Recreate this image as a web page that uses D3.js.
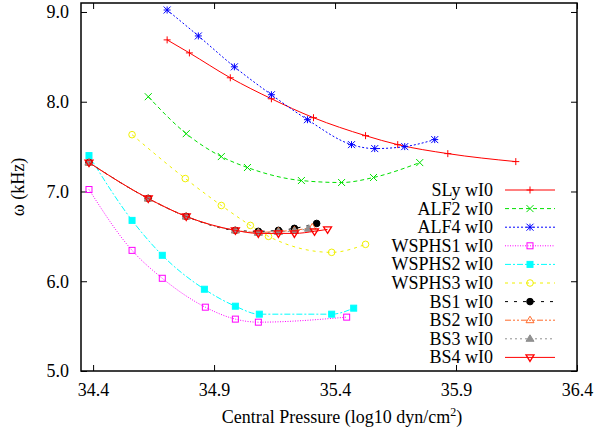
<!DOCTYPE html>
<html>
<head>
<meta charset="utf-8">
<script src="https://cdn.jsdelivr.net/npm/d3@7"></script>
</head>
<body style="margin:0">
<script>
// data (x = log10 central pressure, y = omega in kHz)
var slyX = [34.706, 34.798, 34.967, 35.137, 35.311, 35.526, 35.659, 35.866, 36.147];
var slyY = [8.689, 8.544, 8.267, 8.033, 7.822, 7.622, 7.522, 7.422, 7.333];

var alf2X = [34.628, 34.785, 34.930, 35.038, 35.261, 35.427, 35.559, 35.750];
var alf2Y = [8.056, 7.644, 7.389, 7.267, 7.122, 7.100, 7.156, 7.322];

var alf4X = [34.706, 34.835, 34.984, 35.137, 35.286, 35.468, 35.564, 35.688, 35.812];
var alf4Y = [9.022, 8.733, 8.389, 8.078, 7.800, 7.522, 7.478, 7.500, 7.578];

var wsphs1X = [34.383, 34.561, 34.686, 34.864, 34.988, 35.083, 35.448];
var wsphs1Y = [7.022, 6.344, 6.033, 5.711, 5.578, 5.544, 5.600];

var wsphs2X = [34.383, 34.561, 34.686, 34.860, 34.988, 35.087, 35.386, 35.477];
var wsphs2Y = [7.400, 6.678, 6.289, 5.911, 5.722, 5.633, 5.633, 5.700];

var wsphs3X = [34.561, 34.781, 34.930, 35.050, 35.125, 35.386, 35.526];
var wsphs3Y = [7.633, 7.144, 6.844, 6.622, 6.500, 6.322, 6.411];

var bs1X = [34.383, 34.628, 34.785, 34.988, 35.083, 35.166, 35.232, 35.324];
var bs1Y = [7.322, 6.922, 6.722, 6.567, 6.556, 6.567, 6.589, 6.644];

var bs2X = [34.383, 34.628, 34.785, 34.988, 35.083, 35.166, 35.232, 35.306];
var bs2Y = [7.322, 6.922, 6.722, 6.567, 6.544, 6.556, 6.567, 6.600];

var bs3X = [34.383, 34.628, 34.785, 34.988, 35.083, 35.166, 35.232, 35.290];
var bs3Y = [7.322, 6.922, 6.722, 6.567, 6.540, 6.550, 6.560, 6.585];

var bs4X = [34.383, 34.628, 34.785, 34.988, 35.083, 35.166, 35.232, 35.315, 35.369];
var bs4Y = [7.322, 6.922, 6.722, 6.567, 6.533, 6.533, 6.533, 6.556, 6.578];

var names = ["SLy wI0", "ALF2 wI0", "ALF4 wI0", "WSPHS1 wI0", "WSPHS2 wI0",
             "WSPHS3 wI0", "BS1 wI0", "BS2 wI0", "BS3 wI0", "BS4 wI0"];

var xTicks = [34.4, 34.9, 35.4, 35.9, 36.4];
var yTicks = [5.0, 6.0, 7.0, 8.0, 9.0];

var serif = "'Liberation Serif'";
var fontSize = "18px";

// styles per series
var styles = [
  {color: "#ff0000", dash: null,          mark: "plus"},
  {color: "#00e000", dash: "4,3",         mark: "cross"},
  {color: "#0000ff", dash: "2,2",         mark: "star"},
  {color: "#ff00ff", dash: "1,1.5",       mark: "box"},
  {color: "#00ffff", dash: "6,2,2,2",     mark: "fbox"},
  {color: "#f0f000", dash: "3,4",         mark: "circle"},
  {color: "#000000", dash: "3,6",         mark: "fcircle"},
  {color: "#ff6a2a", dash: "6,2,2,2,2,2", mark: "tri"},
  {color: "#909090", dash: "2,3",         mark: "ftri"},
  {color: "#ff0000", dash: null,          mark: "dtri"}
];

var xs = [slyX, alf2X, alf4X, wsphs1X, wsphs2X, wsphs3X, bs1X, bs2X, bs3X, bs4X];
var ys = [slyY, alf2Y, alf4Y, wsphs1Y, wsphs2Y, wsphs3Y, bs1Y, bs2Y, bs3Y, bs4Y];

var series = names.map(function(n, i) {
  return {
    name: n,
    style: styles[i],
    values: xs[i].map(function(x, j) { return {x: x, y: ys[i][j]}; })
  };
});

var width = 594, height = 436;
var margin = {top: 3, right: 17, bottom: 65, left: 81};

var svg = d3.select("body").append("svg")
    .attr("width", width)
    .attr("height", height);

var x = d3.scaleLinear()
    .domain([34.35, 36.4])
    .range([margin.left, width - margin.right]);

var y = d3.scaleLinear()
    .domain([5.0, 9.1])
    .range([height - margin.bottom, margin.top]);

// axes with mirrored inward ticks
var fmt = d3.format(".1f");
svg.append("g")
    .attr("transform", "translate(0," + (height - margin.bottom) + ")")
    .call(d3.axisBottom(x).tickValues(xTicks).tickSize(-6).tickPadding(12).tickFormat(fmt));
svg.append("g")
    .attr("transform", "translate(0," + margin.top + ")")
    .call(d3.axisTop(x).tickValues(xTicks).tickSize(-6).tickFormat(""));
svg.append("g")
    .attr("transform", "translate(" + margin.left + ",0)")
    .call(d3.axisLeft(y).tickValues(yTicks).tickSize(-6).tickPadding(12).tickFormat(fmt));
svg.append("g")
    .attr("transform", "translate(" + (width - margin.right) + ",0)")
    .call(d3.axisRight(y).tickValues(yTicks).tickSize(-6).tickFormat(""));

svg.selectAll(".domain").remove();
svg.selectAll("g").attr("font-family", null).attr("font-size", null);
svg.selectAll(".tick line").attr("stroke", "#000").attr("stroke-width", 1);
svg.selectAll(".tick text")
    .style("font-family", serif)
    .style("font-size", fontSize);

// frame
svg.append("rect")
    .attr("x", margin.left)
    .attr("y", margin.top)
    .attr("width", width - margin.left - margin.right)
    .attr("height", height - margin.top - margin.bottom)
    .attr("fill", "none")
    .attr("stroke", "#000")
    .attr("stroke-width", 1.5);

// axis titles
svg.append("text")
    .attr("x", 342)
    .attr("y", 423)
    .attr("text-anchor", "middle")
    .style("font-family", serif)
    .style("font-size", fontSize)
    .html("Central Pressure (log10 dyn/cm<tspan dy='-7' style='font-size:12px'>2</tspan><tspan dy='7'>)</tspan>");

svg.append("text")
    .attr("transform", "translate(24," + ((margin.top + height - margin.bottom) / 2) + ") rotate(-90)")
    .attr("text-anchor", "middle")
    .style("font-family", serif)
    .style("font-size", fontSize)
    .text("ω (kHz)");

// marker drawing
function drawMark(g, kind, color, cx, cy) {
  var s = 3.5;
  if (kind === "plus" || kind === "star") {
    g.append("path").attr("d", "M" + (cx - s) + "," + cy + "H" + (cx + s) + "M" + cx + "," + (cy - s) + "V" + (cy + s))
      .attr("stroke", color).attr("stroke-width", 1);
  }
  if (kind === "cross" || kind === "star") {
    g.append("path").attr("d", "M" + (cx - s) + "," + (cy - s) + "L" + (cx + s) + "," + (cy + s) + "M" + (cx - s) + "," + (cy + s) + "L" + (cx + s) + "," + (cy - s))
      .attr("stroke", color).attr("stroke-width", 1);
  }
  if (kind === "box" || kind === "fbox") {
    g.append("rect").attr("x", cx - 3).attr("y", cy - 3).attr("width", 6).attr("height", 6)
      .attr("fill", kind === "fbox" ? color : "none").attr("stroke", color).attr("stroke-width", 1);
  }
  if (kind === "circle" || kind === "fcircle") {
    g.append("circle").attr("cx", cx).attr("cy", cy).attr("r", 3.3)
      .attr("fill", kind === "fcircle" ? color : "none").attr("stroke", color).attr("stroke-width", 1);
  }
  if (kind === "tri" || kind === "ftri") {
    g.append("path").attr("d", "M" + cx + "," + (cy - 4) + "L" + (cx + 4) + "," + (cy + 2.5) + "L" + (cx - 4) + "," + (cy + 2.5) + "Z")
      .attr("fill", kind === "ftri" ? color : "none").attr("stroke", color).attr("stroke-width", 1);
  }
  if (kind === "dtri") {
    g.append("path").attr("d", "M" + cx + "," + (cy + 4) + "L" + (cx + 4) + "," + (cy - 2.5) + "L" + (cx - 4) + "," + (cy - 2.5) + "Z")
      .attr("fill", "none").attr("stroke", color).attr("stroke-width", 1.3);
  }
}

var line = d3.line()
    .x(function(d) { return x(d.x); })
    .y(function(d) { return y(d.y); })
    .curve(d3.curveMonotoneX);

var plot = svg.append("g");
series.forEach(function(s) {
  var g = plot.append("g");
  g.append("path")
      .attr("d", line(s.values))
      .attr("fill", "none")
      .attr("stroke", s.style.color)
      .attr("stroke-width", 1)
      .attr("stroke-dasharray", s.style.dash);
  s.values.forEach(function(d) {
    drawMark(g, s.style.mark, s.style.color, x(d.x), y(d.y));
  });
});

// legend
var legend = svg.append("g");
series.forEach(function(s, i) {
  var ly = 190 + i * 18.6;
  legend.append("text")
      .attr("x", 493)
      .attr("y", ly + 6)
      .attr("text-anchor", "end")
      .style("font-family", serif)
      .style("font-size", fontSize)
      .text(s.name);
  legend.append("line")
      .attr("x1", 505).attr("x2", 555)
      .attr("y1", ly).attr("y2", ly)
      .attr("stroke", s.style.color)
      .attr("stroke-width", 1)
      .attr("stroke-dasharray", s.style.dash);
  drawMark(legend, s.style.mark, s.style.color, 530, ly);
});
</script>
</body>
</html>
